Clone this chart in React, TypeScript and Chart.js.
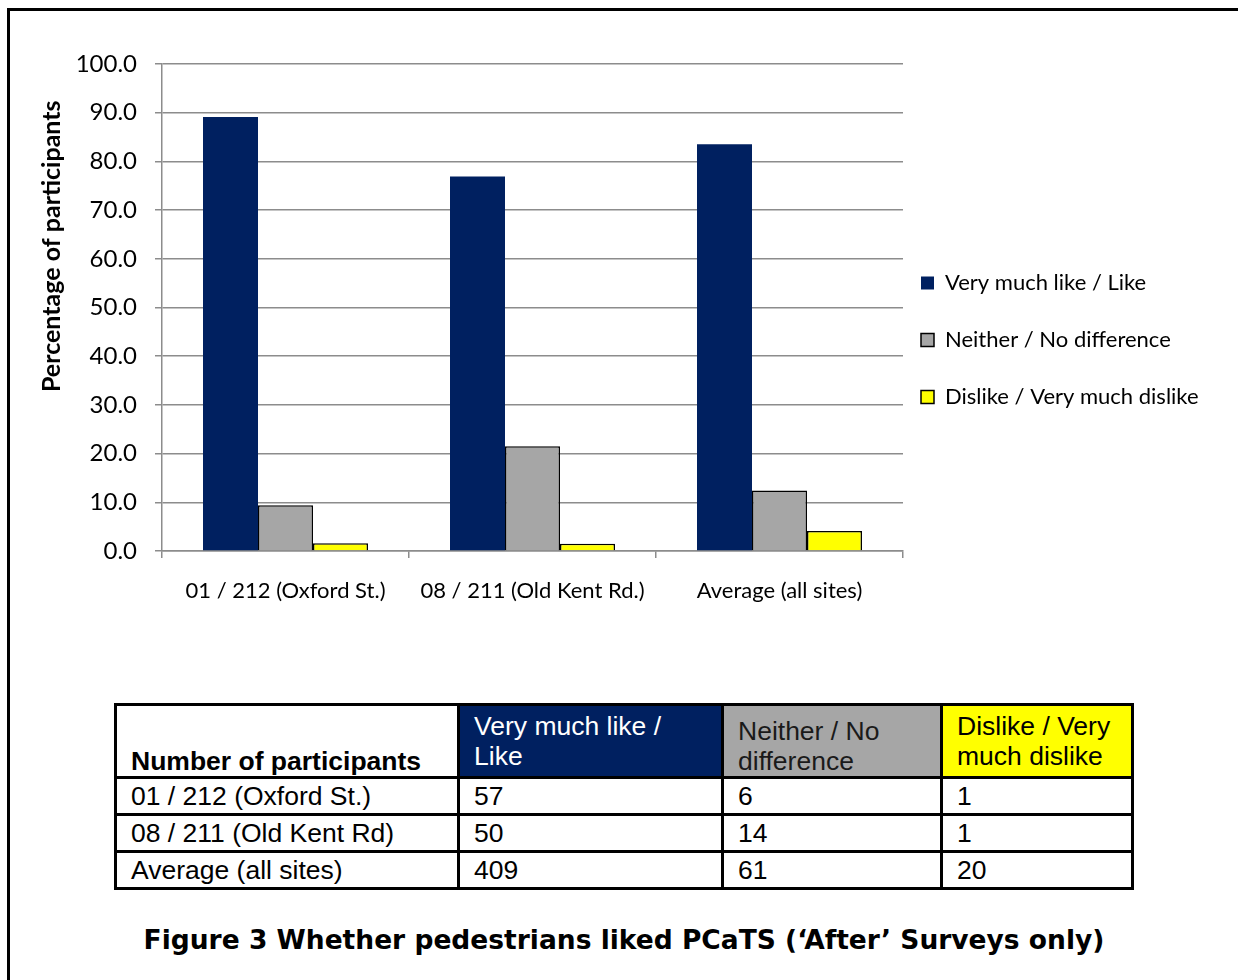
import React, { useEffect, useRef } from "react";
import { Chart, registerables } from "chart.js";

Chart.register(...registerables);

// ---------- data ----------
const categories = ["01 / 212 (Oxford St.)", "08 / 211 (Old Kent Rd.)", "Average (all sites)"];
const seriesNames = ["Very much like / Like", "Neither / No difference", "Dislike / Very much dislike"];
const likeValues = [89.1, 76.9, 83.5];
const neitherValues = [9.4, 21.5, 12.4];
const dislikeValues = [1.6, 1.5, 4.1];
const yAxisTitle = "Percentage of participants";

const tableTitle = "Number of participants";
const tableRowLabels = ["01 / 212 (Oxford St.)", "08 / 211 (Old Kent Rd)", "Average (all sites)"];
const likeCounts = [57, 50, 409];
const neitherCounts = [6, 14, 61];
const dislikeCounts = [1, 1, 20];
const caption = "Figure 3 Whether pedestrians liked PCaTS (\u2018After\u2019 Surveys only)";

// ---------- styles ----------
const BLUE = "#002060";
const GRAY = "#A6A6A6";
const YELLOW = "#FFFF00";
const GRID = "#8C8C8C";
const FONT = "Lato, 'Noto Sans', sans-serif";

const legendPlacement = {
  id: "legendPlacement",
  afterLayout(chart: any) {
    const lg = chart.legend;
    if (!lg) return;
    const pad = lg.options.labels.padding;
    const dx = 921 - (lg.left + pad);
    const dy = 340 - (lg.top + lg.bottom) / 2;
    lg.left += dx;
    lg.right = chart.width;
    lg.width = lg.right - lg.left;
    lg.top += dy;
    lg.bottom += dy;
  },
};

function BarChart() {
  const ref = useRef<HTMLCanvasElement>(null);
  useEffect(() => {
    if (!ref.current) return;
    const chart = new Chart(ref.current, {
      type: "bar",
      data: {
        labels: categories,
        datasets: [
          { label: seriesNames[0], data: likeValues, backgroundColor: BLUE, borderColor: BLUE, borderWidth: 0 },
          { label: seriesNames[1], data: neitherValues, backgroundColor: GRAY, borderColor: "#000", borderWidth: 1.5 },
          { label: seriesNames[2], data: dislikeValues, backgroundColor: YELLOW, borderColor: "#000", borderWidth: 1.5 },
        ],
      },
      options: {
        responsive: false,
        animation: false,
        devicePixelRatio: 1,
        layout: { padding: { left: 30, top: 64, right: 35, bottom: 0 } },
        datasets: { bar: { categoryPercentage: 0.668, barPercentage: 1 } },
        plugins: {
          legend: {
            position: "right",
            maxWidth: 300,
            labels: {
              font: { family: FONT, size: 22 },
              color: "#000",
              boxWidth: 13,
              boxHeight: 13,
              padding: 35,
            },
          },
          tooltip: { enabled: false },
        },
        scales: {
          x: {
            grid: { display: true, drawOnChartArea: false, drawTicks: true, tickLength: 7, color: GRID, lineWidth: 1.5, offset: true },
            border: { color: GRID, width: 1.5 },
            ticks: { font: { family: FONT, size: 22 }, color: "#000", padding: 20, maxRotation: 0, autoSkip: false },
            afterFit: (s: any) => {
              s.height = 89;
            },
          },
          y: {
            min: 0,
            max: 100,
            ticks: {
              stepSize: 10,
              callback: (v: any) => Number(v).toFixed(1),
              font: { family: FONT, size: 24 },
              color: "#000",
              padding: 18,
            },
            grid: { color: GRID, lineWidth: 1.5, tickLength: 7 },
            border: { color: GRID, width: 1.5 },
            title: {
              display: true,
              text: yAxisTitle + "      ",
              align: "end",
              font: { family: FONT, size: 25, weight: "bold" },
              color: "#000",
              padding: { top: 7, bottom: 0 },
            },
            afterFit: (s: any) => {
              s.width = 132;
            },
          },
        },
      } as any,
      plugins: [legendPlacement],
    });
    return () => chart.destroy();
  }, []);
  return <canvas ref={ref} width={1238} height={640} style={{ position: "absolute", left: 0, top: 0 }} />;
}

const cell: React.CSSProperties = {
  border: "3px solid #000",
  padding: "0 0 0 14px",
  lineHeight: "30px",
  whiteSpace: "nowrap",
};

export default function App() {
  const headers = [
    { lines: ["Very much like /", "Like"], bg: BLUE, color: "#fff", va: "top" as const },
    { lines: ["Neither / No", "difference"], bg: GRAY, color: "#1a1a1a", va: "bottom" as const },
    { lines: ["Dislike / Very", "much dislike"], bg: YELLOW, color: "#000", va: "top" as const },
  ];
  return (
    <div style={{ position: "fixed", left: 0, top: 0, width: 1238, height: 980, overflow: "hidden", background: "#fff" }}>
      <div
        style={{
          position: "absolute",
          left: 7,
          top: 8,
          width: 1300,
          height: 1100,
          border: "3px solid #000",
          boxSizing: "border-box",
        }}
      />
      <BarChart />
      <table
        style={{
          position: "absolute",
          left: 114,
          top: 703,
          width: 1017,
          borderCollapse: "collapse",
          tableLayout: "fixed",
          fontFamily: "'Liberation Sans', Arial, sans-serif",
          fontSize: 26.5,
          color: "#000",
        }}
      >
        <colgroup>
          <col style={{ width: 343 }} />
          <col style={{ width: 264 }} />
          <col style={{ width: 219 }} />
          <col style={{ width: 191 }} />
        </colgroup>
        <tbody>
          <tr style={{ height: 73 }}>
            <td style={{ ...cell, verticalAlign: "bottom", fontWeight: "bold", paddingBottom: 0 }}>{tableTitle}</td>
            {headers.map((h, i) => (
              <td
                key={i}
                style={{
                  ...cell,
                  background: h.bg,
                  color: h.color,
                  verticalAlign: h.va,
                  paddingTop: h.va === "top" ? 5 : 0,
                }}
              >
                {h.lines[0]}
                <br />
                {h.lines[1]}
              </td>
            ))}
          </tr>
          {tableRowLabels.map((label, i) => (
            <tr key={i} style={{ height: 37 }}>
              <td style={cell}>{label}</td>
              <td style={cell}>{likeCounts[i]}</td>
              <td style={cell}>{neitherCounts[i]}</td>
              <td style={cell}>{dislikeCounts[i]}</td>
            </tr>
          ))}
        </tbody>
      </table>
      <div
        style={{
          position: "absolute",
          left: 0,
          top: 922,
          width: 1248,
          textAlign: "center",
          fontFamily: "'DejaVu Sans', Verdana, sans-serif",
          fontWeight: "bold",
          fontSize: 26.5,
          lineHeight: "36px",
          color: "#000",
        }}
      >
        {caption}
      </div>
    </div>
  );
}
